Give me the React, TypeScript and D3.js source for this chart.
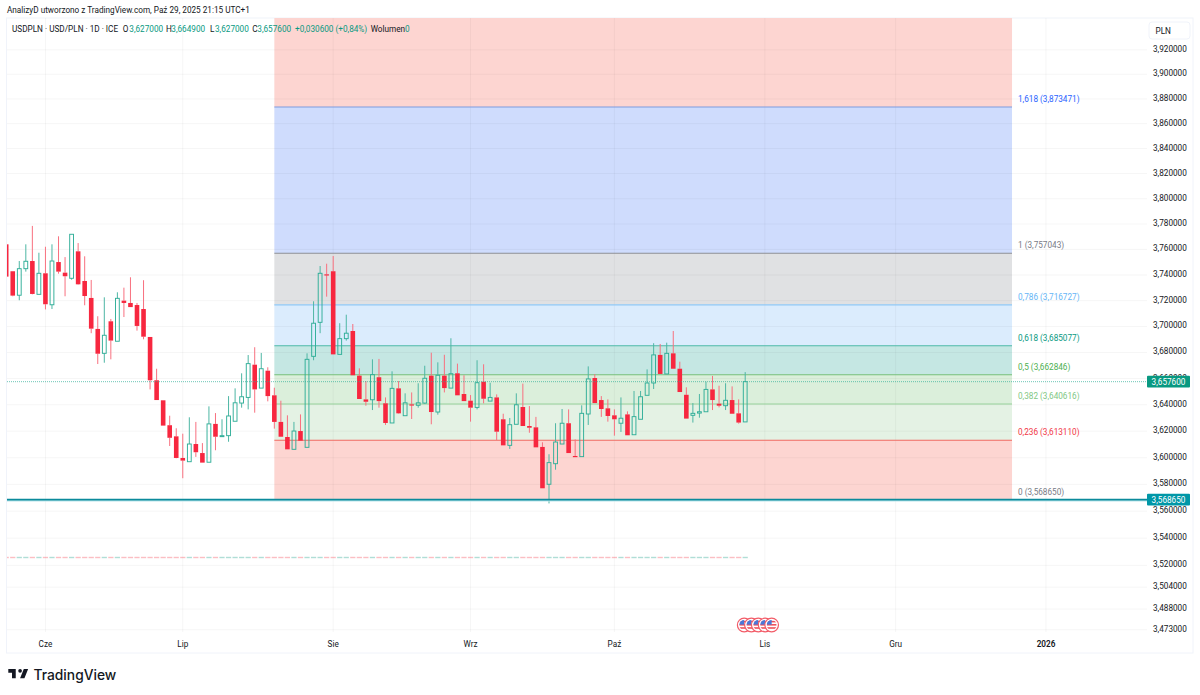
import React from "react";
import * as d3 from "d3";

const opens = [
  3.7640, 3.7429, 3.7242, 3.7449, 3.7509, 3.7249, 3.7413, 3.7168, 3.7501, 3.7418,
  3.7374, 3.7585, 3.7353, 3.7221, 3.6981, 3.6793, 3.7040, 3.6886, 3.7200, 3.7182,
  3.7166, 3.7135, 3.6919, 3.6587, 3.6434, 3.6245, 3.6161, 3.5998, 3.5970, 3.6103,
  3.6035, 3.5966, 3.6255, 3.6163, 3.6166, 3.6275, 3.6413, 3.6456, 3.6706, 3.6527,
  3.6660, 3.6472, 3.6270, 3.6156, 3.6063, 3.6201, 3.6078, 3.6770, 3.7032, 3.7405,
  3.7429, 3.6785, 3.6906, 3.6965, 3.6622, 3.6441, 3.6438, 3.6610, 3.6411, 3.6262,
  3.6525, 3.6317, 3.6403, 3.6396, 3.6413, 3.6622, 3.6345, 3.6622, 3.6527, 3.6640,
  3.6482, 3.6431, 3.6380, 3.6576, 3.6428, 3.6456, 3.6290, 3.6093, 3.6252, 3.6383,
  3.6239, 3.6229, 3.6081, 3.5801, 3.5955, 3.6103, 3.6260, 3.6013, 3.6008, 3.6330,
  3.6604, 3.6436, 3.6373, 3.6320, 3.6260, 3.6327, 3.6173, 3.6290, 3.6472, 3.6566,
  3.6781, 3.6635, 3.6793, 3.6675, 3.6476, 3.6320, 3.6337, 3.6347, 3.6517, 3.6408,
  3.6393, 3.6436, 3.6335, 3.6270,
];
const highs = [
  3.7640, 3.7429, 3.7509, 3.7640, 3.7785, 3.7574, 3.7621, 3.7640, 3.7703, 3.7540,
  3.7719, 3.7650, 3.7546, 3.7361, 3.7079, 3.7226, 3.7058, 3.7265, 3.7301, 3.7382,
  3.7182, 3.7359, 3.6919, 3.6675, 3.6434, 3.6317, 3.6222, 3.6181, 3.6305, 3.6270,
  3.6110, 3.6388, 3.6337, 3.6290, 3.6466, 3.6525, 3.6640, 3.6780, 3.6840, 3.6796,
  3.6686, 3.6530, 3.6431, 3.6320, 3.6270, 3.6327, 3.6793, 3.7195, 3.7470, 3.7488,
  3.7548, 3.7025, 3.7091, 3.7019, 3.6678, 3.6581, 3.6747, 3.6750, 3.6456, 3.6655,
  3.6581, 3.6487, 3.6494, 3.6564, 3.6698, 3.6798, 3.6724, 3.6782, 3.6909, 3.6714,
  3.6625, 3.6474, 3.6740, 3.6709, 3.6568, 3.6479, 3.6332, 3.6300, 3.6487, 3.6561,
  3.6390, 3.6308, 3.6116, 3.6026, 3.6260, 3.6368, 3.6365, 3.6138, 3.6396, 3.6693,
  3.6633, 3.6466, 3.6441, 3.6365, 3.6456, 3.6350, 3.6505, 3.6505, 3.6670, 3.6871,
  3.6865, 3.6875, 3.6965, 3.6729, 3.6533, 3.6413, 3.6482, 3.6576, 3.6620, 3.6545,
  3.6564, 3.6540, 3.6441, 3.6649,
];
const lows = [
  3.7387, 3.7234, 3.7203, 3.7426, 3.7249, 3.7249, 3.7132, 3.7135, 3.7410, 3.7234,
  3.7363, 3.7324, 3.7164, 3.6948, 3.6711, 3.6721, 3.6747, 3.6886, 3.7073, 3.7150,
  3.6968, 3.6901, 3.6517, 3.6436, 3.6242, 3.6088, 3.5996, 3.5846, 3.5970, 3.6006,
  3.5963, 3.5966, 3.6056, 3.6163, 3.6120, 3.6275, 3.6378, 3.6365, 3.6340, 3.6527,
  3.6426, 3.6219, 3.6158, 3.6063, 3.6063, 3.6128, 3.6078, 3.6740, 3.6948, 3.7231,
  3.6785, 3.6785, 3.6891, 3.6625, 3.6444, 3.6393, 3.6360, 3.6378, 3.6247, 3.6262,
  3.6332, 3.6317, 3.6292, 3.6378, 3.6408, 3.6252, 3.6325, 3.6494, 3.6527, 3.6472,
  3.6428, 3.6272, 3.6365, 3.6411, 3.6428, 3.6133, 3.6093, 3.6066, 3.6252, 3.6239,
  3.6188, 3.6078, 3.5771, 3.5658, 3.5910, 3.6103, 3.6035, 3.6008, 3.6008, 3.6247,
  3.6413, 3.6308, 3.6272, 3.6166, 3.6194, 3.6169, 3.6173, 3.6290, 3.6472, 3.6520,
  3.6635, 3.6635, 3.6675, 3.6497, 3.6295, 3.6265, 3.6302, 3.6347, 3.6360, 3.6380,
  3.6360, 3.6332, 3.6257, 3.6270,
];
const closes = [
  3.7387, 3.7239, 3.7449, 3.7507, 3.7252, 3.7413, 3.7172, 3.7509, 3.7426, 3.7390,
  3.7719, 3.7327, 3.7236, 3.6983, 3.6790, 3.6932, 3.6891, 3.7218, 3.7182, 3.7150,
  3.7004, 3.6921, 3.6587, 3.6436, 3.6242, 3.6150, 3.5998, 3.5978, 3.6103, 3.6041,
  3.5963, 3.6255, 3.6158, 3.6166, 3.6315, 3.6415, 3.6461, 3.6714, 3.6517, 3.6675,
  3.6466, 3.6270, 3.6158, 3.6063, 3.6201, 3.6128, 3.6747, 3.7025, 3.7413, 3.7398,
  3.6785, 3.6906, 3.6948, 3.6625, 3.6444, 3.6423, 3.6630, 3.6428, 3.6262, 3.6525,
  3.6335, 3.6415, 3.6396, 3.6415, 3.6602, 3.6345, 3.6625, 3.6527, 3.6637, 3.6472,
  3.6428, 3.6378, 3.6568, 3.6446, 3.6456, 3.6196, 3.6093, 3.6249, 3.6400, 3.6239,
  3.6226, 3.6078, 3.5771, 3.5963, 3.6118, 3.6260, 3.6035, 3.6008, 3.6335, 3.6597,
  3.6413, 3.6368, 3.6315, 3.6290, 3.6298, 3.6169, 3.6310, 3.6461, 3.6566, 3.6781,
  3.6635, 3.6793, 3.6675, 3.6497, 3.6295, 3.6335, 3.6347, 3.6517, 3.6436, 3.6393,
  3.6434, 3.6332, 3.6265, 3.6576,
];

const priceTicks = [
  3.92, 3.9, 3.88, 3.86, 3.84, 3.82, 3.8, 3.78, 3.76, 3.74, 3.72, 3.7, 3.68, 3.66,
  3.64, 3.62, 3.6, 3.58, 3.56, 3.54, 3.52, 3.504, 3.488, 3.473,
];
const monthLabels = ["Cze", "Lip", "Sie", "Wrz", "Paź", "Lis", "Gru", "2026"];
const monthIndex = [6, 27, 50, 71, 93, 116, 136, 159];

const fibRatios = ["1,618", "1", "0,786", "0,618", "0,5", "0,382", "0,236", "0"];
const fibPrices = [3.873471, 3.757043, 3.716727, 3.685077, 3.662846, 3.640616, 3.61311, 3.56865];
const fibLines = ["#7f9ce0", "#8c8e96", "#90c8f6", "#4db8a9", "#74bf78", "#96d199", "#f0695f", "#787b86"];
const fibFills = ["#cfdcfd", "#e0e1e3", "#dbecfd", "#c5e7e3", "#dbefdb", "#e4f2e4", "#fdd5d1"];
const fibTexts = ["#2962ff", "#787b86", "#64b5f6", "#089981", "#4caf50", "#81c784", "#f23645", "#787b86"];
const fibTopFill = "#fdd5d1";
const fibStartIndex = 41;
const fibEndIndex = 153.8;

const lastPrice = 3.6576;
const flagIndex = [113, 114.1, 115.15, 116.2, 117.2];

const UI = "Roboto, sans-serif";
const GREEN = "#089981";
const RED = "#f7273f";
const fmt = (v: number) => v.toFixed(6).replace(".", ",");

const PANE = { left: 7, right: 1147, top: 18, bottom: 632 };

const y = d3.scaleLog().domain([3.56865, 3.873471]).range([499.6, 107]);
const x = d3.scaleLinear().domain([0, 113]).range([6.2, 745.2]);

function Flag({ cx }: { cx: number }) {
  const cy = 625;
  const id = "f" + Math.round(cx * 10);
  return (
    <g>
      <clipPath id={id}><circle cx={cx} cy={cy} r={5} /></clipPath>
      <circle cx={cx} cy={cy} r={6.8} fill="#fff" stroke="#f25c68" strokeWidth={1.2} />
      <g clipPath={`url(#${id})`}>
        <rect x={cx - 5} y={cy - 5} width={10} height={10} fill="#fff" />
        {d3.range(0, 3).map((i) => (
          <rect key={i} x={cx - 5} y={cy - 4.2 + i * 3.2} width={10} height={1.6} fill="#f0505c" />
        ))}
        <rect x={cx - 5} y={cy - 5} width={5} height={4.6} fill="#4a78d8" />
      </g>
    </g>
  );
}

export default function App() {
  const fibLeft = x(fibStartIndex);
  const fibRight = x(fibEndIndex);
  const bodyW = 4.6;
  return (
    <svg
      width={1200}
      height={695}
      viewBox="0 0 1200 695"
      style={{ position: "absolute", left: 0, top: 0, display: "block", background: "#fff" }}
      fontFamily={UI}
    >
      <defs>
        <clipPath id="pane">
          <rect x={PANE.left} y={PANE.top} width={PANE.right - PANE.left} height={PANE.bottom - PANE.top} />
        </clipPath>
      </defs>

      {/* frame */}
      <rect x={6.5} y={18} width={1186.5} height={635} fill="none" stroke="#f0f3fa" strokeWidth={1} />

      {/* fib zones */}
      <rect x={fibLeft} y={PANE.top} width={fibRight - fibLeft} height={y(fibPrices[0]) - PANE.top} fill={fibTopFill} />
      {fibFills.map((c, i) => (
        <rect key={i} x={fibLeft} y={y(fibPrices[i])} width={fibRight - fibLeft} height={y(fibPrices[i + 1]) - y(fibPrices[i])} fill={c} />
      ))}

      {/* grid */}
      {priceTicks.map((t) => (
        <line key={t} x1={PANE.left} x2={PANE.right} y1={y(t)} y2={y(t)} stroke="rgba(42,46,57,0.045)" />
      ))}
      {monthIndex.map((m) => (
        <line key={m} x1={x(m)} x2={x(m)} y1={PANE.top} y2={PANE.bottom} stroke="rgba(42,46,57,0.045)" />
      ))}

      {/* fib lines */}
      {fibPrices.slice(0, 7).map((p, i) => (
        <line key={p} x1={fibLeft} x2={fibRight} y1={y(p)} y2={y(p)} stroke={fibLines[i]} strokeWidth={1.1} />
      ))}
      {fibPrices.map((p, i) => (
        <text key={p} x={1018} y={y(p) - 8} dominantBaseline="central" fontSize={8.2} fill={fibTexts[i]}>
          {`${fibRatios[i]} (${fmt(p)})`}
        </text>
      ))}

      <g clipPath="url(#pane)">
        {/* volume = 0 strip */}
        {closes.map((c, i) => (
          <rect
            key={i}
            x={x(i) - 2.6}
            y={556.8}
            width={5.2}
            height={1.4}
            fill={c >= opens[i] ? GREEN : "#f23645"}
            opacity={0.32}
          />
        ))}

        {/* candles */}
        {closes.map((c, i) => {
          const up = c >= opens[i];
          const top = y(Math.max(c, opens[i]));
          const bot = y(Math.min(c, opens[i]));
          const col = up ? "#2fae98" : RED;
          return (
            <g key={i}>
              <line
                x1={x(i)}
                x2={x(i)}
                y1={y(highs[i])}
                y2={top}
                stroke={up ? "#4db6a4" : "#f8707f"}
                strokeWidth={1}
              />
              <line
                x1={x(i)}
                x2={x(i)}
                y1={bot}
                y2={y(lows[i])}
                stroke={up ? "#4db6a4" : "#f8707f"}
                strokeWidth={1}
              />
              {up ? (
                <rect
                  x={x(i) - bodyW / 2 + 0.4}
                  y={top}
                  width={bodyW - 0.8}
                  height={Math.max(bot - top, 1)}
                  fill="none"
                  stroke={col}
                  strokeWidth={0.95}
                />
              ) : (
                <rect x={x(i) - bodyW / 2} y={top} width={bodyW} height={Math.max(bot - top, 1.2)} fill={col} />
              )}
            </g>
          );
        })}

        {/* last price dotted */}
        <line
          x1={PANE.left}
          x2={PANE.right}
          y1={y(lastPrice)}
          y2={y(lastPrice)}
          stroke="#2fae98"
          strokeOpacity={0.7}
          strokeWidth={1}
          strokeDasharray="1 1"
        />
      </g>

      {/* base line */}
      <line x1={PANE.left} x2={PANE.right} y1={y(3.56865) + 0.8} y2={y(3.56865) + 0.8} stroke="#b9e6ec" strokeWidth={2.2} />
      <line x1={PANE.left} x2={PANE.right} y1={y(3.56865)} y2={y(3.56865)} stroke="#0b8a9b" strokeWidth={1.7} />

      {/* price axis */}
      {priceTicks.map((t) => (
        <text key={t} x={1153} y={y(t) - 1} dominantBaseline="central" fontSize={8.2} fill="#131722">
          {fmt(t)}
        </text>
      ))}
      <rect x={1149} y={22} width={41} height={17} rx={3} fill="#fff" stroke="#f0f3fa" />
      <text x={1155.5} y={30.5} dominantBaseline="central" fontSize={8.2} fill="#131722">PLN</text>

      <rect x={1147} y={y(lastPrice) - 5.8} width={43} height={11.6} rx={1} fill={GREEN} />
      <text x={1168.5} y={y(lastPrice)} textAnchor="middle" dominantBaseline="central" fontSize={8.2} fill="#fff">
        {fmt(lastPrice)}
      </text>
      <rect x={1147} y={y(3.56865) - 5.8} width={43} height={11.6} rx={1} fill="#0097a7" />
      <text x={1168.5} y={y(3.56865)} textAnchor="middle" dominantBaseline="central" fontSize={8.2} fill="#fff">
        {fmt(3.56865)}
      </text>

      {/* time axis */}
      {monthLabels.map((m, i) => (
        <text
          key={m}
          x={x(monthIndex[i])}
          y={644}
          textAnchor="middle"
          dominantBaseline="central"
          fontSize={8.2}
          fontWeight={m === "2026" ? 600 : 400}
          fill="#131722"
        >
          {m}
        </text>
      ))}

      {flagIndex.map((f) => (
        <Flag key={f} cx={x(f) - 1} />
      ))}

      {/* headers */}
      <text x={7} y={10} dominantBaseline="central" fontSize={8.2} fill="#131722">
        AnalizyD utworzono z TradingView.com, Paź 29, 2025 21:15 UTC+1
      </text>
      <g fontSize={8.2} fill="#131722">
        <text x={12} y={28.5} dominantBaseline="central">USDPLN · USD/PLN · 1D · ICE</text>
        <text x={122.7} y={28.5} dominantBaseline="central">O</text>
        <text x={129.3} y={28.5} dominantBaseline="central" fill={GREEN}>{fmt(opens[113])}</text>
        <text x={166} y={28.5} dominantBaseline="central">H</text>
        <text x={171.3} y={28.5} dominantBaseline="central" fill={GREEN}>{fmt(highs[113])}</text>
        <text x={210} y={28.5} dominantBaseline="central">L</text>
        <text x={215} y={28.5} dominantBaseline="central" fill={GREEN}>{fmt(lows[113])}</text>
        <text x={252.3} y={28.5} dominantBaseline="central">C</text>
        <text x={257.3} y={28.5} dominantBaseline="central" fill={GREEN}>{fmt(closes[113])}</text>
        <text x={295} y={28.5} dominantBaseline="central" fill={GREEN}>+0,030600 (+0,84%)</text>
        <text x={370.7} y={28.5} dominantBaseline="central">Wolumen</text>
        <text x={405} y={28.5} dominantBaseline="central" fill={GREEN}>0</text>
      </g>

      {/* logo */}
      <g transform="translate(7.06,665.28) scale(0.62)" fill="#131722">
        <path d="M14 6H2v6h6v9h6V6zm14 15h-7l6-15h7l-6 15zm-7-9a3 3 0 1 0 0-6 3 3 0 0 0 0 6z" />
      </g>
      <text x={33.5} y={674.5} dominantBaseline="central" fontFamily="Inter, sans-serif" fontWeight={500} fontSize={13.8} fill="#131722">
        TradingView
      </text>
    </svg>
  );
}
